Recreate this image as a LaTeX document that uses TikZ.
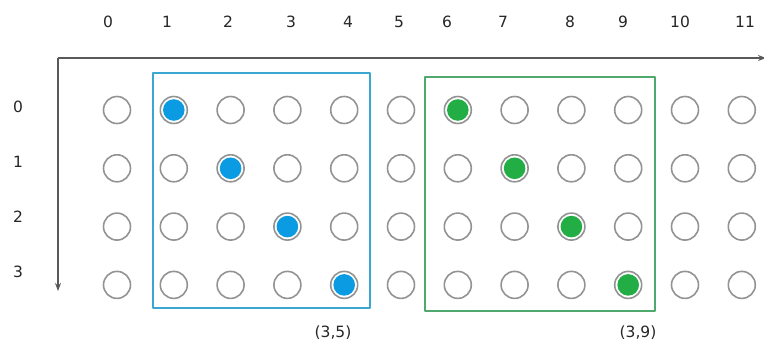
\documentclass[tikz,border=0pt]{standalone}
\usepackage{fontspec}
\setmainfont{DejaVu Sans}
\usetikzlibrary{arrows.meta}
\definecolor{dotblue}{HTML}{0B9BE3}
\definecolor{dotgreen}{HTML}{22AE45}
\definecolor{boxblue}{HTML}{3AA7D2}
\definecolor{boxgreen}{HTML}{4FA86C}
\definecolor{ringgray}{HTML}{939393}
\begin{document}
\begin{tikzpicture}[x=1pt, y=-1pt, line join=round, >={Stealth[length=8pt,width=6pt]},
    font=\fontsize{15.5}{18}\selectfont,
    dot/.style={circle, draw=ringgray, line width=1.6pt, minimum size=27pt, inner sep=0pt},
    axis/.style={draw=black!65, line width=2pt}]
\useasboundingbox (0,0) rectangle (764,347);
\def\dx{56.8}
\def\dy{58.3}

% Trục
\coordinate (O) at (58,58);
\coordinate (xend) at (766,58);
\coordinate (yend) at (58,291);
\draw[axis,->] (O) -- (xend);
\draw[axis,->] (O) -- (yend);

% Nhãn cột và hàng
\foreach \lx [count=\i from 0] in {108,167,228,291,348,399,447,503,570,623,680,745}
  \node[text=black!85] (col\i) at (\lx,22) {\i};
\foreach \ly [count=\i from 0] in {107,162,217,272}
  \node[text=black!85] (row\i) at (18,\ly) {\i};

% Lưới điểm
\foreach \r in {0,...,3}
  \foreach \c in {0,...,11}
    \node[dot] (p-\r-\c) at (117+\c*\dx, 110+\r*\dy) {};

% Điểm tô màu
\foreach \r/\c in {0/1,1/2,2/3,3/4}
  \fill[dotblue] (p-\r-\c) circle (10.8);
\foreach \r/\c in {0/6,1/7,2/8,3/9}
  \fill[dotgreen] (p-\r-\c) circle (10.8);

% Khung
\draw[boxblue, line width=1.3pt] (153,73) rectangle (370,308);
\draw[boxgreen, line width=1.3pt] (425,77) rectangle (655,311);
\node[text=black!85] (lblue) at (333,333) {(3,5)};
\node[text=black!85] (lgreen) at (638,333) {(3,9)};
\end{tikzpicture}
\end{document}
